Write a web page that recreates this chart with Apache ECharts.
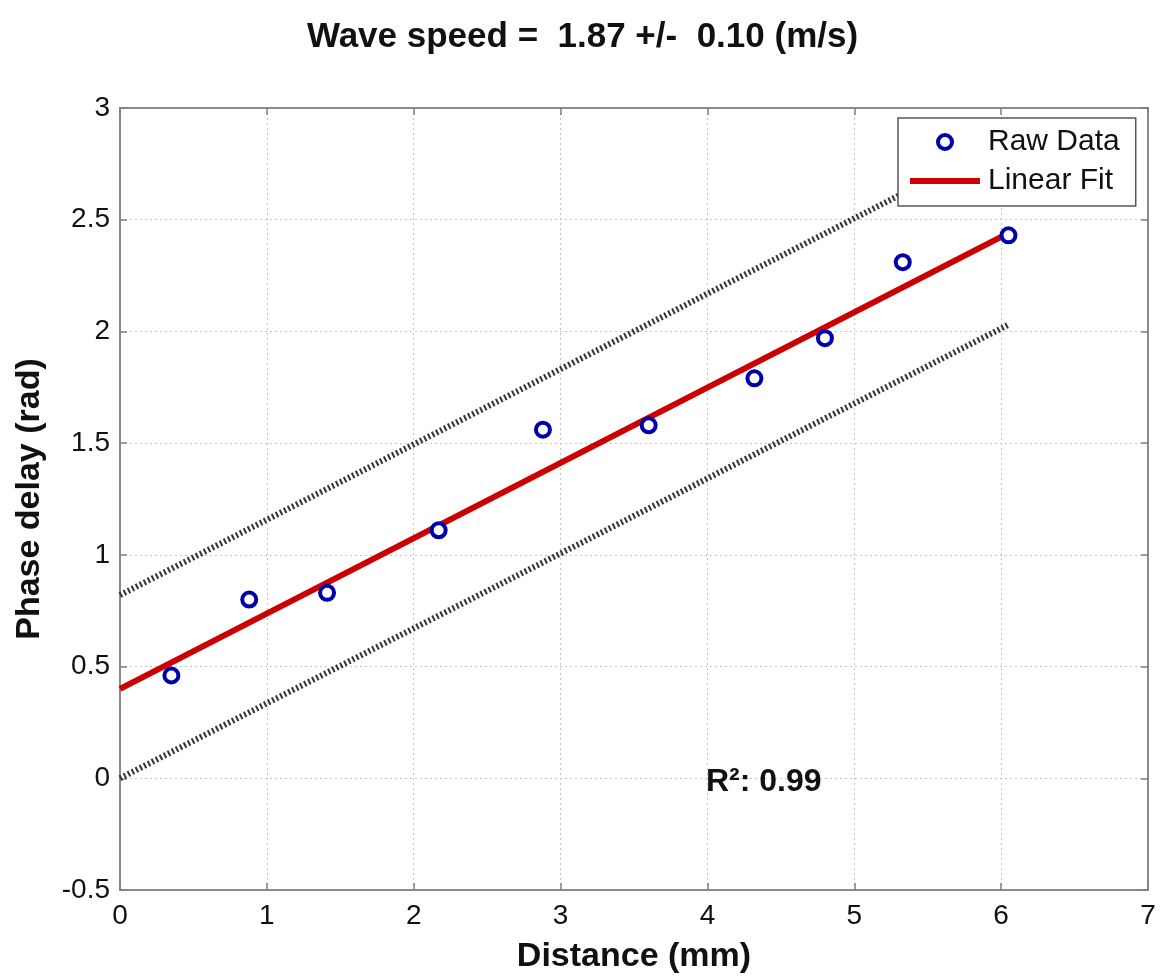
<!DOCTYPE html>
<html><head><meta charset="utf-8">
<script src="https://cdn.jsdelivr.net/npm/echarts@6/dist/echarts.min.js"></script>
<style>html,body{margin:0;padding:0;background:#fff}#c{width:1165px;height:977px}</style>
</head><body><div id="c"></div>
<script>
const distance = [0.35, 0.88, 1.41, 2.17, 2.88, 3.60, 4.32, 4.80, 5.33, 6.05];
const phase    = [0.46, 0.80, 0.83, 1.11, 1.56, 1.58, 1.79, 1.97, 2.31, 2.43];
const fitX = [0, 6.05];
const fitY = [0.40, 2.44];
const bandX = [0, 6.05];
const upperBand = [0.82, 2.86];
const lowerBand = [0.00, 2.03];
const xTicks = [0, 1, 2, 3, 4, 5, 6, 7];
const yTicks = [-0.5, 0, 0.5, 1, 1.5, 2, 2.5, 3];

const zip = (a, b) => a.map((v, i) => [v, b[i]]);
const chart = echarts.init(document.getElementById('c'), null, {renderer: 'canvas'});
const sans = "'Liberation Sans', Arial, sans-serif";

const gridStyle = {show: true, lineStyle: {color: '#c4c4c4', type: [2, 3], width: 1}};
const tick = {show: true, inside: true, length: 7, lineStyle: {color: '#808080', width: 1.5}};

chart.setOption({
  backgroundColor: '#fff',
  animation: false,
  title: {
    text: 'Wave speed =  1.87 +/-  0.10 (m/s)',
    left: 'center', top: 15,
    textStyle: {fontFamily: sans, fontWeight: 'bold', fontSize: 35, color: '#111'}
  },
  grid: {left: 120, right: 17, top: 108, bottom: 87, outerBoundsMode: 'none', containLabel: false,
         show: true, borderColor: '#8a8a8a', borderWidth: 2, backgroundColor: '#fff'},
  legend: {
    left: 898, top: 118, orient: 'vertical',
    backgroundColor: '#fff', borderColor: '#555', borderWidth: 1.5,
    padding: [9, 16, 10, 12], itemGap: 9, itemWidth: 70, itemHeight: 14,
    textStyle: {fontFamily: sans, fontSize: 30, color: '#111', padding: [0, 0, 0, 3]},
    data: [
      {name: 'Raw Data', icon: 'circle', itemStyle: {color: '#fff', borderColor: '#0000aa', borderWidth: 4}},
      {name: 'Linear Fit', icon: 'path://M0,0 L70,0 L70,6 L0,6 Z', itemStyle: {color: '#cc0000', borderWidth: 0}}
    ]
  },
  xAxis: [{
    type: 'value', min: xTicks[0], max: xTicks[xTicks.length - 1], interval: 1,
    name: 'Distance (mm)', nameLocation: 'middle', nameGap: 50,
    nameTextStyle: {fontFamily: sans, fontWeight: 'bold', fontSize: 34, color: '#111'},
    axisLine: {show: true, onZero: false, lineStyle: {color: '#8a8a8a', width: 2}},
    axisTick: tick,
    axisLabel: {fontFamily: sans, fontSize: 28, color: '#111', margin: 12},
    splitLine: gridStyle
  }, {
    type: 'value', position: 'top', min: xTicks[0], max: xTicks[xTicks.length - 1], interval: 1,
    axisLine: {show: true, onZero: false, lineStyle: {color: '#8a8a8a', width: 2}},
    axisTick: tick, axisLabel: {show: false}, splitLine: {show: false}
  }],
  yAxis: [{
    type: 'value', min: yTicks[0], max: yTicks[yTicks.length - 1], interval: 0.5,
    name: 'Phase delay (rad)', nameLocation: 'middle', nameGap: 73,
    nameTextStyle: {fontFamily: sans, fontWeight: 'bold', fontSize: 34, color: '#111'},
    axisLine: {show: true, onZero: false, lineStyle: {color: '#8a8a8a', width: 2}},
    axisTick: tick,
    axisLabel: {fontFamily: sans, fontSize: 28, color: '#111', margin: 10},
    splitLine: gridStyle
  }, {
    type: 'value', position: 'right', min: yTicks[0], max: yTicks[yTicks.length - 1], interval: 0.5,
    axisLine: {show: true, onZero: false, lineStyle: {color: '#8a8a8a', width: 2}},
    axisTick: tick, axisLabel: {show: false}, splitLine: {show: false}
  }],
  series: [
    {name: 'Upper bound', type: 'line', data: zip(bandX, upperBand), symbol: 'none', silent: true,
     lineStyle: {color: '#333', width: 6, type: [2, 2.5]}, z: 2},
    {name: 'Lower bound', type: 'line', data: zip(bandX, lowerBand), symbol: 'none', silent: true,
     lineStyle: {color: '#333', width: 6, type: [2, 2.5]}, z: 2},
    {name: 'Linear Fit', type: 'line', data: zip(fitX, fitY), symbol: 'none',
     lineStyle: {color: '#cc0000', width: 6}, itemStyle: {color: '#cc0000'}, z: 3},
    {name: 'Raw Data', type: 'scatter', data: zip(distance, phase), symbol: 'circle', symbolSize: 14,
     itemStyle: {color: '#fff', borderColor: '#0000aa', borderWidth: 4, opacity: 1}, z: 4}
  ],
  graphic: [{
    type: 'text', left: 706, top: 766, z: 10,
    style: {text: 'R²: 0.99', fontFamily: sans, fontWeight: 'bold', fontSize: 32, fill: '#111'}
  }]
});
</script></body></html>
